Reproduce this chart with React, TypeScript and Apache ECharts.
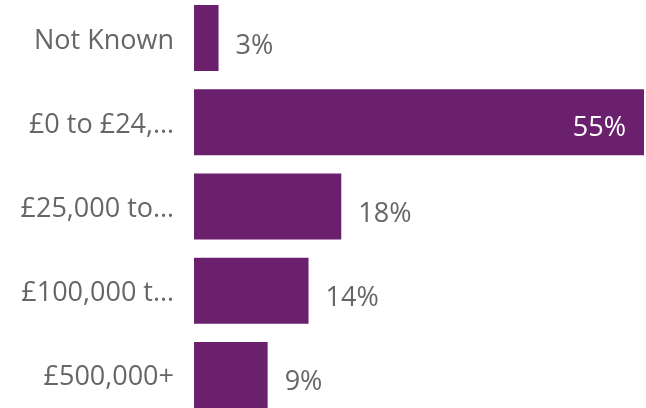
import React, { useEffect, useRef } from "react";
import * as echarts from "echarts";

const categories = ["Not Known", "£0 to £24,…", "£25,000 to…", "£100,000 t…", "£500,000+"];
const values = [3, 55, 18, 14, 9];

export default function App() {
  const ref = useRef<HTMLDivElement>(null);
  useEffect(() => {
    if (!ref.current) return;
    const chart = echarts.init(ref.current, undefined, { renderer: "svg" });
    const font = "'Segoe UI', 'Open Sans', 'Noto Sans', sans-serif";
    chart.setOption({
      animation: false,
      grid: { left: 194, top: 0, width: 450, height: 421, containLabel: false },
      xAxis: {
        type: "value",
        min: 0,
        max: 55,
        show: false,
      },
      yAxis: {
        type: "category",
        inverse: true,
        data: categories,
        axisLine: { show: false },
        axisTick: { show: false },
        splitLine: { show: false },
        axisLabel: {
          color: "#666666",
          fontSize: 27,
          fontFamily: font,
          margin: 20,
        },
      },
      series: [
        {
          type: "bar",
          data: values.map((v, i) => ({
            value: v,
            label:
              i === 1
                ? {
                    position: "insideRight",
                    color: "#ffffff",
                    distance: 18,
                    offset: [0, 3],
                  }
                : { position: "right", color: "#666666", distance: 17, offset: [0, 5] },
          })),
          barWidth: 66,
          itemStyle: { color: "#6b206d" },
          label: {
            show: true,
            formatter: "{c}%",
            fontSize: 27,
            fontFamily: font,
          },
        },
      ],
    });
    return () => chart.dispose();
  }, []);
  return (
    <div
      ref={ref}
      style={{ position: "fixed", left: 0, top: -4, width: 646, height: 421 }}
    />
  );
}
